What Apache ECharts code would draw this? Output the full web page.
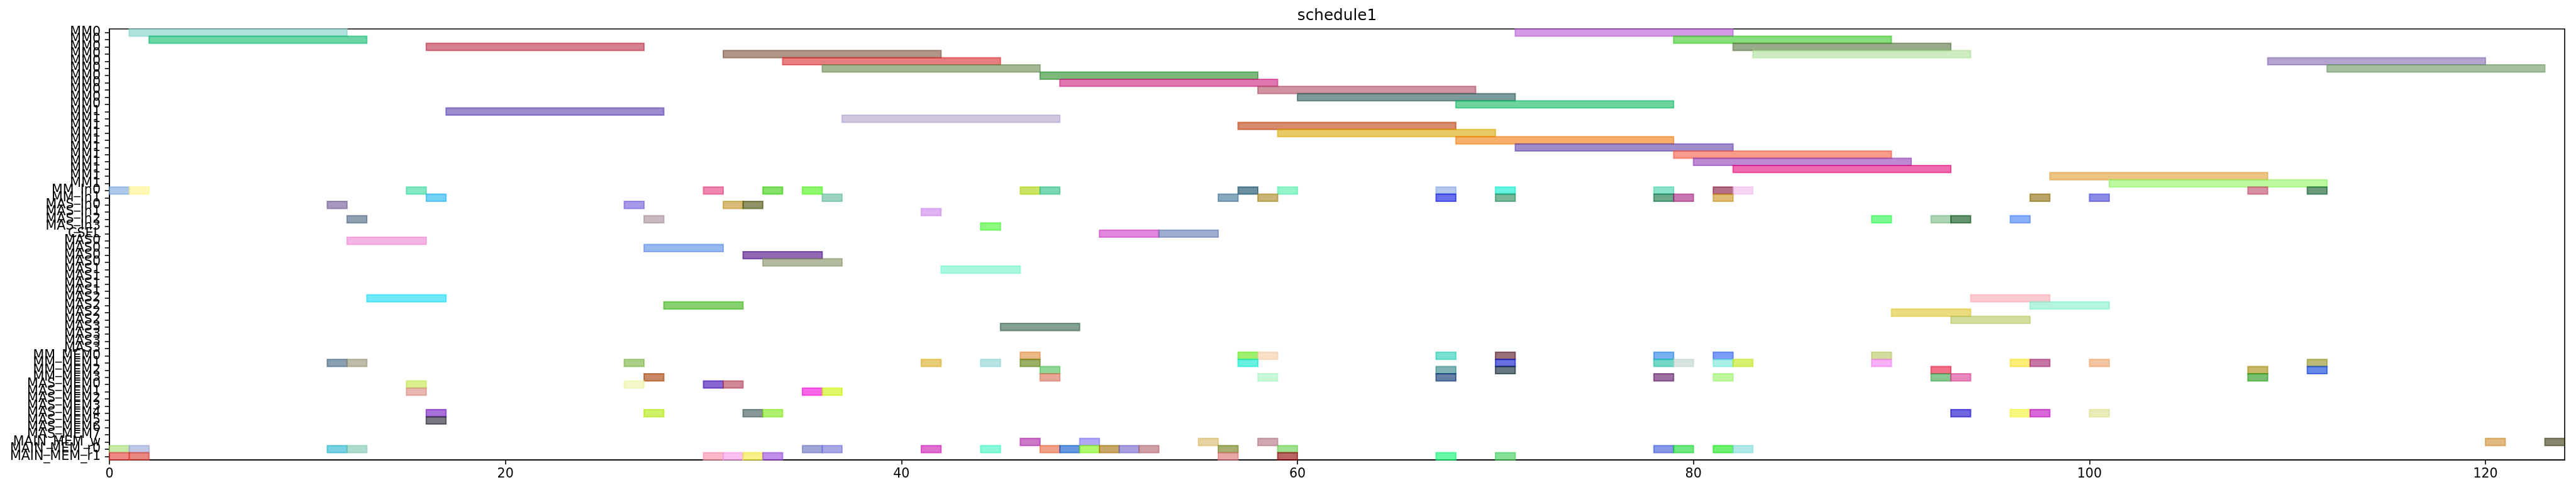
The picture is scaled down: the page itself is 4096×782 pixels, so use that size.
<!DOCTYPE html>
<html>
<head>
<meta charset="utf-8">
<script src="https://cdn.jsdelivr.net/npm/echarts@6/dist/echarts.min.js"></script>
<style>html,body{margin:0;padding:0;background:#fff}#c{width:4096px;height:782px}</style>
</head>
<body>
<div id="c"></div>
<script>
// ---------- DATA ----------
const chartTitle = 'schedule1';
const rowLabels = [
  'MM0','MM0','MM0','MM0','MM0','MM0','MM0','MM0','MM0','MM0','MM0',
  'MM1','MM1','MM1','MM1','MM1','MM1','MM1','MM1','MM1','MM1','MM1',
  'MM_In0','MM_In1','MAS_In0','MAS_In1','MAS_In2','MAS_In3','CSEL',
  'MAS0','MAS0','MAS0','MAS0','MAS1','MAS1','MAS1','MAS1',
  'MAS2','MAS2','MAS2','MAS2','MAS3','MAS3','MAS3','MAS3',
  'MM_MEM0','MM_MEM1','MM_MEM2','MM_MEM3',
  'MAS_MEM0','MAS_MEM1','MAS_MEM2','MAS_MEM3','MAS_MEM4','MAS_MEM5','MAS_MEM6','MAS_MEM7',
  'MAIN_MEM_w','MAIN_MEM_r0','MAIN_MEM_r1'
];
const xTicks = [0, 20, 40, 60, 80, 100, 120];

// [row, start, end]
const mmTasks = [
  [0,1,12],[0,71,82],[1,2,13],[1,79,90],[2,16,27],[2,82,93],[3,31,42],[3,83,94],
  [4,34,45],[4,109,120],[5,36,47],[5,112,123],[6,47,58],[7,48,59],[8,58,69],[9,60,71],[10,68,79],
  [11,17,28],[12,37,48],[13,57,68],[14,59,70],[15,68,79],[16,71,82],[17,79,90],[18,80,91],
  [19,82,93],[20,98,109],[21,101,112]
];
const mmColors = [
  '#b2e2de','#d49ae4','#6dd4a8','#88dd7c','#d67f8e','#9aab8c','#b09688','#cdedc0',
  '#e77f80','#b4a4d0','#a4b894','#a6c1a0','#7db97b','#df77b0','#cf94a2','#7e9b9b','#6dd4a0',
  '#9a8ccf','#d0c6e0','#d88b6c','#e8ca68','#f6b06a','#a08ccb','#f89a8c','#bd8ad3',
  '#ef6aaf','#ecc585','#bcf8a0'
];

const ioTasks = [
  [22,0,1],[22,1,2],[22,15,16],[22,30,31],[22,33,34],[22,35,36],[22,46,47],[22,47,48],[22,57,58],
  [22,59,60],[22,67,68],[22,70,71],[22,78,79],[22,81,82],[22,82,83],[22,108,109],[22,111,112],
  [23,16,17],[23,36,37],[23,56,57],[23,58,59],[23,67,68],[23,70,71],[23,78,79],[23,79,80],
  [23,81,82],[23,97,98],[23,100,101],
  [24,11,12],[24,26,27],[24,31,32],[24,32,33],
  [25,41,42],
  [26,12,13],[26,27,28],[26,89,90],[26,92,93],[26,93,94],[26,96,97],
  [27,44,45],
  [28,50,53],[28,53,56]
];
const ioColors = [
  '#adc8e8','#fff8b8','#84e8c4','#ee88b0','#84e060','#90f870','#cce464','#7cd8b4','#6c90a0',
  '#94f4cc','#b4c8ec','#64f4e0','#8ce4cc','#b47088','#f8d4f4','#d890a4','#6a9a7c',
  '#74d0f4','#9cd4c0','#88a8c0','#c8b474','#6870ec','#78b898','#6ca88c','#c878b0',
  '#e0bc74','#b8a464','#8c8ce8',
  '#a898c0','#a898e8','#d8bc78','#909468',
  '#e0b4f4',
  '#90a0b0','#c8b8c0','#7cf890','#acd4b4','#689470','#8cb0f8',
  '#8cf880',
  '#e088dc','#a0acd0'
];

const masTasks = [
  [29,12,16],[30,27,31],[31,32,36],[32,33,37],[33,42,46],[37,13,17],[37,94,98],
  [38,28,32],[38,97,101],[39,90,94],[40,93,97],[41,45,49]
];
const masColors = [
  '#f4b4e4','#98b8f0','#9068b4','#b4bca0','#a8f8e0','#70e8f8','#fccad0',
  '#88d070','#b4f4e0','#ecdc80','#d4dca0','#84a090'
];

const memTasks = [
  [45,46,47],[45,57,58],[45,58,59],[45,67,68],[45,70,71],[45,78,79],[45,81,82],[45,89,90],
  [46,11,12],[46,12,13],[46,26,27],[46,41,42],[46,44,45],[46,46,47],[46,57,58],[46,70,71],
  [46,78,79],[46,79,80],[46,81,82],[46,82,83],[46,89,90],[46,96,97],[46,97,98],[46,100,101],[46,111,112],
  [47,47,48],[47,67,68],[47,70,71],[47,92,93],[47,108,109],[47,111,112],
  [48,27,28],[48,47,48],[48,58,59],[48,67,68],[48,78,79],[48,81,82],[48,92,93],[48,93,94],[48,108,109],
  [49,15,16],[49,26,27],[49,30,31],[49,31,32],
  [50,15,16],[50,35,36],[50,36,37],
  [53,16,17],[53,27,28],[53,32,33],[53,33,34],[53,93,94],[53,96,97],[53,97,98],[53,100,101],
  [54,16,17],
  [57,46,47],[57,49,50],[57,55,56],[57,58,59],[57,120,121],[57,123,124],
  [58,0,1],[58,1,2],[58,11,12],[58,12,13],[58,35,36],[58,36,37],[58,41,42],[58,44,45],[58,47,48],
  [58,48,49],[58,49,50],[58,50,51],[58,51,52],[58,52,53],[58,56,57],[58,59,60],[58,78,79],[58,79,80],
  [58,81,82],[58,82,83],
  [59,0,1],[59,1,2],[59,30,31],[59,31,32],[59,32,33],[59,33,34],[59,56,57],[59,59,60],[59,67,68],[59,70,71]
];
const memColors = [
  '#ecb888','#a0f070','#f8e0c8','#78e0d0','#987078','#78b0f0','#7c9cf8','#d4dca0',
  '#8aa0b0','#bcbca8','#acd088','#e8cc78','#b8e4e4','#9cb068','#68f0e0','#6870e0',
  '#78d8c8','#d8e4e0','#a8f0e8','#d8f070','#f8b0f8','#fcec78','#c878a8','#f4c4a0','#bcbc78',
  '#90d898','#80b4b4','#687880','#f07088','#c8b868','#6888e8',
  '#c88860','#e8a898','#c8f8d8','#6080a8','#9c70a0','#c0f8a0','#88c890','#e888bc','#78c070',
  '#d8f090','#f4f8c8','#8868d0','#d08898',
  '#e8b8b0','#f868e8','#e0f868',
  '#a870d8','#d0f060','#889898','#b0f070','#7064e0','#f8f880','#d868d8','#e8ecb8',
  '#787880',
  '#cc78c8','#b0a8f8','#e8d4a0','#d0a8b0','#e0b880','#888870',
  '#c8e8a8','#c0c8e8','#78d0e0','#b0dcd0','#a0a8d8','#a8a8e8','#e070d0','#88f8d8','#f0a088',
  '#6898e0','#b0f870','#c8a868','#a8a0e0','#d0a0a8','#a8b070','#a0e090','#8898e8','#70e880',
  '#70f070','#b0e8e8',
  '#f08888','#e88880','#f8b8c8','#f8c0f0','#f8f088','#c090e8','#e8a8a8','#b86068','#68f8a8','#88e098'
];

// ---------- BUILD ----------
const S = 0.741;
const FONT = 'DejaVu Sans';
const ALPHA = 0.6;
function baseRgb(hex) {
  // displayed colour (alpha over white) -> underlying colour
  const n = parseInt(hex.slice(1), 16);
  const c = [(n >> 16) & 255, (n >> 8) & 255, n & 255];
  return c.map(v => Math.max(0, Math.min(255, Math.round((v - 255 * (1 - ALPHA)) / ALPHA))));
}
const groups = [[mmTasks, mmColors], [ioTasks, ioColors], [masTasks, masColors], [memTasks, memColors]];
const data = [];
groups.forEach(([tasks, cols]) => {
  tasks.forEach((t, i) => {
    const b = baseRgb(cols[i] || '#a0a0a0');
    data.push({ value: t, itemStyle: { color: 'rgba(' + b.join(',') + ',' + ALPHA + ')' } });
  });
});

function renderItem(params, api) {
  const row = api.value(0), s = api.value(1), e = api.value(2);
  const p0 = api.coord([s, row]);
  const p1 = api.coord([e, row]);
  const h = api.size([0, 1])[1];
  const col = api.visual('color');
  return {
    type: 'rect',
    shape: { x: p0[0], y: p0[1] - h / 2, width: p1[0] - p0[0], height: h },
    style: { fill: col, stroke: col, lineWidth: 2.0 }
  };
}

const gridLeft = 174, gridRight = 18, gridTop = 46, gridBottom = 51;
const chart = echarts.init(document.getElementById('c'), null, { renderer: 'canvas', width: 4096, height: 782 });
chart.setOption({
  animation: false,
  backgroundColor: '#ffffff',
  textStyle: { fontFamily: FONT },
  graphic: [{
    type: 'text',
    x: (gridLeft + (4096 - gridRight)) / 2,
    y: 26,
    style: {
      text: chartTitle, fill: '#000', font: '24.7px "' + FONT + '"',
      textAlign: 'center', textVerticalAlign: 'middle'
    }
  }],
  grid: {
    left: gridLeft, right: gridRight, top: gridTop, bottom: gridBottom,
    show: true, borderColor: '#000', borderWidth: 1.6, backgroundColor: 'transparent'
  },
  xAxis: {
    type: 'value', min: 0, max: 124, interval: 20,
    axisLine: { show: true, lineStyle: { color: '#000', width: 1.6 } },
    axisTick: { show: true, length: 7.2, lineStyle: { color: '#000', width: 1.6 } },
    axisLabel: {
      color: '#000', fontSize: 20.6, fontFamily: FONT, margin: 12,
      showMaxLabel: false,
      formatter: v => (xTicks.indexOf(v) >= 0 ? String(v) : '')
    },
    splitLine: { show: false }
  },
  yAxis: {
    type: 'category', inverse: true, boundaryGap: true,
    data: rowLabels.map((_, i) => 'r' + i),
    axisLine: { show: true, lineStyle: { color: '#000', width: 1.6 } },
    axisTick: { show: true, alignWithLabel: true, interval: 0, length: 7.2, lineStyle: { color: '#000', width: 1.6 } },
    axisLabel: {
      interval: 0, color: '#000', fontSize: 20.6, fontFamily: FONT, margin: 14,
      formatter: (v, i) => rowLabels[i]
    },
    splitLine: { show: false }
  },
  series: [{
    type: 'custom',
    renderItem: renderItem,
    encode: { x: [1, 2], y: 0 },
    data: data,
    clip: false
  }]
});
</script>
</body>
</html>
